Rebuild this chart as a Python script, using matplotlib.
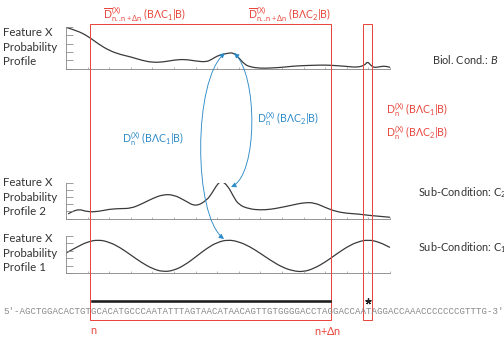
import matplotlib
matplotlib.use("Agg")
import matplotlib.pyplot as plt
from matplotlib.path import Path
from matplotlib.patches import Rectangle, FancyArrowPatch, PathPatch

plt.rcParams['font.family'] = ['Lato', 'DejaVu Sans']
plt.rcParams['mathtext.fontset'] = 'custom'
plt.rcParams['mathtext.rm'] = 'Lato'
plt.rcParams['mathtext.it'] = 'Lato:italic'

# profile data (x = position along the sequence window, y = probability in tick units)
top_x = [0, 0.5, 1, 1.5, 2, 2.5, 3, 3.5, 4, 4.5, 5, 5.5, 6, 6.5, 6.75, 7, 7.25, 7.5, 7.75,
         8, 8.25, 8.5, 9, 9.5, 10, 10.5, 11, 11.5, 12, 12.5, 13, 13.5,
         13.85, 13.95, 14.1, 14.25, 14.5, 14.75, 15]
top_y = [4.96, 4.57, 3.92, 2.95, 2.17, 1.69, 1.40, 0.99, 0.73, 0.78, 1.02, 1.11, 0.90, 0.78, 1.11, 1.51, 1.69, 1.85, 1.90,
         1.30, 0.55, 0.20, 0.02, 0.06, 0.14, 0.28, 0.35, 0.39, 0.42, 0.35, 0.25, 0.13,
         0.42, 0.85, 0.42, 0.10, 0.20, 0.30, 0.14]

mid_x = [0.1, 0.5, 1, 1.5, 2, 2.5, 3, 3.5, 4, 4.5, 5, 5.5, 6, 6.5, 6.75, 7, 7.2, 7.5, 7.75,
         8, 8.5, 9, 9.5, 10, 10.5, 11, 11.5, 12, 12.5, 13, 13.5, 14, 14.5, 15]
mid_y = [0.63, 1.40, 0.90, 0.97, 1.29, 1.38, 1.40, 2.01, 2.78, 3.34, 3.28, 2.50, 1.64, 2.49, 3.47, 4.75, 5.25, 4.51, 3.06,
         1.88, 1.32, 1.18, 1.28, 1.56, 1.88, 2.20, 2.20, 1.53, 0.97, 0.72, 0.63, 0.44, 0.31, 0.17]

bot_x = [i * 0.5 for i in range(31)]
bot_y = [2.70, 3.51, 4.22, 4.50, 4.18, 3.45, 2.43, 1.41, 0.58, 0.15, 0.35, 1.08, 2.16, 3.30, 4.15, 4.50,
         4.23, 3.58, 2.65, 1.66, 0.80, 0.28, 0.15, 0.64, 1.47, 2.51, 3.51, 4.22, 4.50, 4.18, 3.45]

sequence = "5'-AGCTGGACACTGTGCACATGCCCAATATTTAGTAACATAACAGTTGTGGGGACCTAGGACCAATAGGACCAAACCCCCCCGTTTG-3'"
window = (16, 60)   # character indices of the n .. n+dn window
snp = 66            # character index of the starred position

W, H = 504, 342
fig = plt.figure(figsize=(W / 72, H / 72), dpi=72)


def smooth(xs, ys):
    # quadratic segments through the midpoints, the samples act as control points
    verts = [(xs[0], ys[0])]
    codes = [Path.MOVETO]
    for i in range(1, len(xs) - 1):
        verts += [(xs[i], ys[i]), ((xs[i] + xs[i + 1]) / 2, (ys[i] + ys[i + 1]) / 2)]
        codes += [Path.CURVE3, Path.CURVE3]
    verts.append((xs[-1], ys[-1]))
    codes.append(Path.LINETO)
    return Path(verts, codes)


def profile_axes(base, height, xs, ys):
    ax = fig.add_axes([66 / W, (H - base) / H, 324 / W, height / H])
    ax.add_patch(PathPatch(smooth(xs, ys), fill=False, ec='#3a3a3a', lw=1.25))
    ax.set_xlim(0, 15)
    ax.set_ylim(0, 5)
    ax.set_xticks(range(16))
    ax.set_yticks(range(6))
    ax.tick_params(axis='y', direction='in', length=7, width=0.8, color='#888888', labelleft=False)
    ax.tick_params(axis='x', direction='in', length=2, width=0.6, color='#888888', labelbottom=False)
    for s in ('top', 'right'):
        ax.spines[s].set_visible(False)
    for s in ('left', 'bottom'):
        ax.spines[s].set_color('#8c8c8c')
        ax.spines[s].set_linewidth(0.9)
    ax.patch.set_alpha(0)
    return ax


profile_axes(68.5, 41.5, top_x, top_y)
profile_axes(218.5, 36, mid_x, mid_y)
profile_axes(273, 37, bot_x, bot_y)

# overlay in pixel coordinates
ov = fig.add_axes([0, 0, 1, 1])
ov.set_xlim(0, W)
ov.set_ylim(H, 0)
ov.axis('off')
ov.patch.set_alpha(0)

red = '#e8473d'
blue = '#2e8bc8'
dark = '#333333'

x0, cw = 3, 5.46
ov.text(x0, 311, sequence, family='Liberation Mono', fontsize=9.1, color='#8a8a8a', va='center', ha='left')

wl, wr = x0 + window[0] * cw, x0 + window[1] * cw
ov.add_patch(Rectangle((wl, 24), wr - wl, 296, fill=False, ec=red, lw=1.0))
sl = x0 + snp * cw
ov.add_patch(Rectangle((sl, 24), cw * 1.65, 296, fill=False, ec=red, lw=1.0))
ov.plot([wl + 2, wr - 1], [300.5, 300.5], color='#1e1e1e', lw=2.6)
ov.plot([sl + cw * 0.8], [300.5], marker=(5, 2, 0), ms=6, mew=1.3, color='#222222')
ov.text(wl + 3, 331, 'n', fontsize=11, color=red, ha='center', va='center')
ov.text(wr - 3, 331, r'n+$\Delta$n', fontsize=11, color=red, ha='center', va='center')

feat = dict(fontsize=11.5, color=dark, ha='left', va='center')
for y0, last in ((33, 'Profile'), (183, 'Profile 2'), (239, 'Profile 1')):
    for k, line in enumerate(('Feature X', 'Probability', last)):
        ov.text(3, y0 + k * 14.2, line, **feat)

ov.text(432, 60, 'Biol. Cond.: $\\mathit{B}$', fontsize=11, color=dark, ha='left', va='center')
ov.text(418, 193, 'Sub-Condition: C$_2$', fontsize=11, color=dark, ha='left', va='center')
ov.text(418, 248, 'Sub-Condition: C$_1$', fontsize=11, color=dark, ha='left', va='center')

lab_bar = r'$\overline{\mathrm{D}}_{\mathrm{n..n+\Delta n}}^{\mathrm{(X)}}\ \mathrm{(B\Lambda C_%d|B)}$'
lab_n = r'$\mathrm{D}_{\mathrm{n}}^{\mathrm{(X)}}\ \mathrm{(B\Lambda C_%d|B)}$'
ov.text(103, 14, lab_bar % 1, fontsize=10.5, color=red, ha='left', va='center')
ov.text(248, 14, lab_bar % 2, fontsize=10.5, color=red, ha='left', va='center')
ov.text(386, 110, lab_n % 1, fontsize=10.5, color=red, ha='left', va='center')
ov.text(386, 133, lab_n % 2, fontsize=10.5, color=red, ha='left', va='center')
ov.text(122, 139, lab_n % 1, fontsize=10.5, color=blue, ha='left', va='center')
ov.text(257, 119, lab_n % 2, fontsize=10.5, color=blue, ha='left', va='center')

# blue double arrows between profiles
C4 = Path.CURVE4
left_arc = Path([(225, 53), (193, 80), (193, 215), (224, 239)], [Path.MOVETO, C4, C4, C4])
right_arc = Path([(234, 53), (258, 75), (258, 175), (231, 187)], [Path.MOVETO, C4, C4, C4])
for p in (left_arc, right_arc):
    ov.add_patch(FancyArrowPatch(path=p, arrowstyle='<|-|>,head_length=4,head_width=2',
                                 color=blue, lw=0.9, mutation_scale=1, transform=ov.transData))

fig.savefig('out.png', dpi=72)
